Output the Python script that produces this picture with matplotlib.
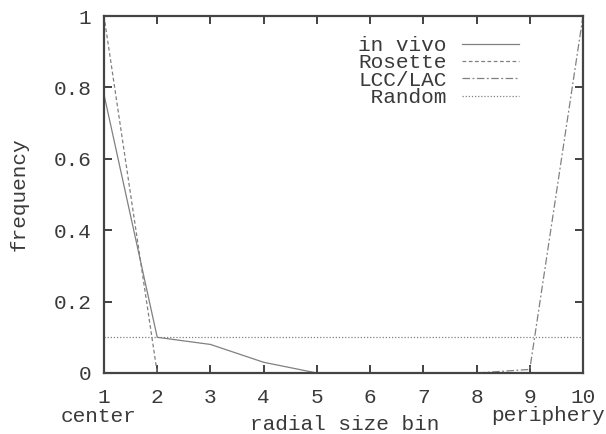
import matplotlib
matplotlib.use("Agg")
import matplotlib.pyplot as plt

bins = [1, 2, 3, 4, 5, 6, 7, 8, 9, 10]
in_vivo = [0.78, 0.10, 0.08, 0.03, 0.0, 0.0, 0.0, 0.0, 0.0, 0.0]
rosette = [1.0, 0.0, 0.0, 0.0, 0.0, 0.0, 0.0, 0.0, 0.0, 0.0]
lcc_lac = [0.0, 0.0, 0.0, 0.0, 0.0, 0.0, 0.0, 0.0, 0.01, 1.0]
random_ = [0.1] * 10
yticks = [0, 0.2, 0.4, 0.6, 0.8, 1]
ytick_labels = ["0", "0.2", "0.4", "0.6", "0.8", "1"]

FONT = "Liberation Mono"
FS = 15.2
TXT = "#3a3a3a"
LINE = "#808080"

plt.rcParams["font.family"] = [FONT, "DejaVu Sans"]

fig = plt.figure(figsize=(6.06, 4.34), dpi=100)
ax = fig.add_axes([104/606, 1 - 373/434, (583-104)/606, (373-16)/434])

ax.plot(bins, in_vivo, color=LINE, lw=0.9, ls="-", label="in vivo")
ax.plot(bins, rosette, color=LINE, lw=0.9, ls=(0, (3, 2)), label="Rosette")
ax.plot(bins, lcc_lac, color=LINE, lw=0.9, ls=(0, (6, 2, 1.5, 2)), label="LCC/LAC")
ax.plot(bins, random_, color=LINE, lw=0.9, ls=(0, (1, 1.5)), label=" Random")

ax.set_xlim(1, 10)
ax.set_ylim(0, 1)
ax.set_xticks(bins)
ax.set_xticklabels([str(b) for b in bins])
ax.set_yticks(yticks)
ax.set_yticklabels(ytick_labels)

for s in ax.spines.values():
    s.set_color("#444444")
    s.set_linewidth(1.6)

ax.tick_params(direction="in", length=6, width=1.3, color="#333333",
               top=True, right=True, labelsize=FS, labelcolor=TXT)
ax.tick_params(axis="x", pad=11)
ax.tick_params(axis="y", pad=9)

ax.set_ylabel("frequency", fontsize=FS, color=TXT, labelpad=18)
fig.text(345/606, 1 - 430/434, "radial size bin", fontsize=FS, color=TXT,
         ha="center", va="baseline")
fig.text(99/606, 1 - 422/434, "center", fontsize=FS, color=TXT,
         ha="center", va="baseline")
fig.text(548/606, 1 - 421/434, "periphery", fontsize=FS, color=TXT,
         ha="center", va="baseline")

leg = ax.legend(loc="upper right", bbox_to_anchor=(519/606, 1 - 36/434),
                bbox_transform=fig.transFigure, frameon=False,
                markerfirst=False, fontsize=FS, handlelength=2.7,
                handletextpad=0.72, labelspacing=-0.08, borderpad=0,
                borderaxespad=0)
for t in leg.get_texts():
    t.set_color(TXT)

fig.savefig("out.png", dpi=100)
